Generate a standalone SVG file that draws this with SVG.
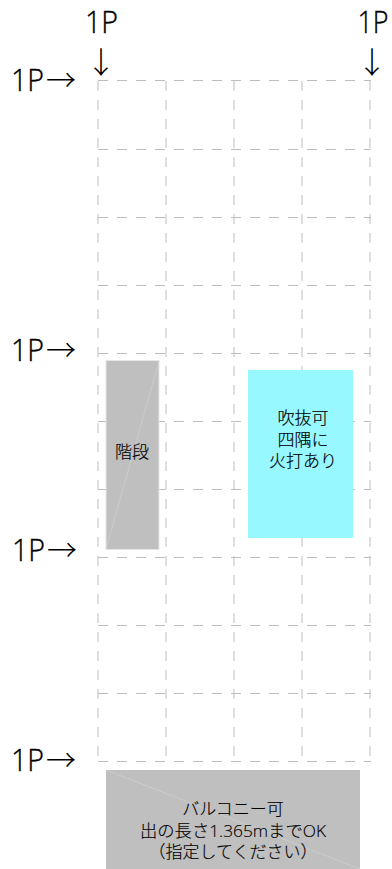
<svg xmlns="http://www.w3.org/2000/svg" width="392" height="869" viewBox="0 0 392 869">
<style>
.g{stroke:#bdbdbd;stroke-width:1;stroke-dasharray:10 9;fill:none}
.t{font-family:"Open Sans","Noto Sans CJK JP",sans-serif;font-weight:300;fill:#000;font-size:17px;text-anchor:middle;stroke:#000;stroke-width:.15}
.p{font-family:"Open Sans","Noto Sans CJK JP",sans-serif;font-weight:300;fill:#000;font-size:32px;stroke:#000;stroke-width:.4}
.a{font-family:"Noto Sans CJK JP",sans-serif;font-weight:300;fill:#000;font-size:30px}
.d{stroke:#d4d4d4;stroke-width:.6;fill:none}
</style>
<rect width="392" height="869" fill="#fff"/>
<g id="grid">
<path class="g" d="M98 80.5H371M98 149.5H371M98 217.5H371M98 285.5H371M98 353.5H371M98 421.5H371M98 489.5H371M98 557.5H371M98 625.5H371M98 693.5H371M98 761.5H371"/>
<path class="g" d="M98 81V762M166 81V762M234 81V762M302 81V762M370 81V762"/>
</g>
<g id="stairs">
<rect x="106" y="360.5" width="53" height="189" fill="#bfbfbf" stroke="#e6e6e6" stroke-width="1"/>
<path class="d" d="M159 361L106 549"/>
<text class="t" x="132" y="458">階段</text>
</g>
<g id="void">
<rect x="248" y="370" width="105" height="168" fill="#98f8ff"/>
<text class="t" x="303" y="424">吹抜可</text>
<text class="t" x="303" y="446">四隅に</text>
<text class="t" x="303" y="467">火打あり</text>
</g>
<g id="balcony">
<rect x="106" y="770" width="254" height="99" fill="#bfbfbf"/>
<path class="d" d="M106 770L360 869"/>
<text class="t" x="233" y="815">バルコニー可</text>
<text class="t" x="233" y="837" textLength="186" lengthAdjust="spacingAndGlyphs">出の長さ1.365mまでOK</text>
<text class="t" x="233" y="858">（指定してください）</text>
</g>
<g id="labels">
<text class="p" x="85" y="33" textLength="33" lengthAdjust="spacingAndGlyphs">1P</text>
<text class="p" x="357.5" y="33" textLength="31" lengthAdjust="spacingAndGlyphs">1P</text>
<text class="a" x="86" y="73">↓</text>
<text class="a" x="357" y="73">↓</text>
<text class="p" x="11" y="91" textLength="33" lengthAdjust="spacingAndGlyphs">1P</text><text class="a" x="46" y="91">→</text>
<text class="p" x="11" y="361" textLength="33" lengthAdjust="spacingAndGlyphs">1P</text><text class="a" x="46" y="361">→</text>
<text class="p" x="12" y="561" textLength="33" lengthAdjust="spacingAndGlyphs">1P</text><text class="a" x="47" y="561">→</text>
<text class="p" x="11" y="771" textLength="33" lengthAdjust="spacingAndGlyphs">1P</text><text class="a" x="46" y="771">→</text>
</g>
</svg>
